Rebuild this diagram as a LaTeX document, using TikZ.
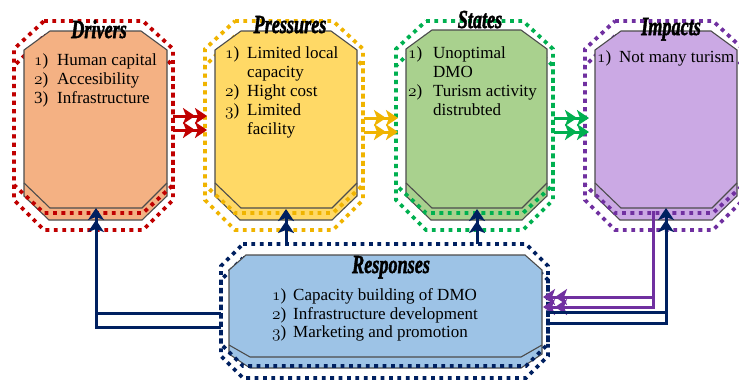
\documentclass[tikz,border=0pt]{standalone}
\usepackage{fontspec}
\usepackage{graphicx}
\usetikzlibrary{arrows.meta}
\setmainfont{Liberation Serif}
\newfontfamily\ttlfont{Liberation Serif}[BoldItalicFeatures={FakeBold=2}]
\newcommand\osn[1]{{\usefont{OML}{cmm}{m}{it}#1}}
\definecolor{cRed}{HTML}{C00000}
\definecolor{cGold}{HTML}{F0B400}
\definecolor{cGreen}{HTML}{00B050}
\definecolor{cPurple}{HTML}{7030A0}
\definecolor{cNavy}{HTML}{002060}
\definecolor{fOrange}{HTML}{F4B183}
\definecolor{fYellow}{HTML}{FFD966}
\definecolor{fGreen}{HTML}{A9D18E}
\definecolor{fPurple}{HTML}{CBA9E4}
\definecolor{fBlue}{HTML}{9DC3E6}
% style, L, T, R, B, c top, cy top, c bottom, cy bottom
\newcommand\octdraw[9]{\path[#1] (#2+#6,#3) -- (#4-#6,#3) -- (#4,#3+#7) -- (#4,#5-#9) -- (#4-#8,#5) -- (#2+#8,#5) -- (#2,#5-#9) -- (#2,#3+#7) -- cycle;}
\tikzset{
  dots/.style={draw, line width=3.8pt, dash pattern=on 3.8pt off 4.6pt},
  boxedge/.style={draw=black!70, line width=1.1pt},
  bevel/.style={draw=black!70, line width=1.1pt},
  conn/.style={line width=3pt},
  dblarrow/.style={-{Stealth[length=12pt,width=16pt,inset=3pt]Stealth[length=12pt,width=16pt,inset=3pt]}},
  ttl/.style={anchor=base, inner sep=0pt, font=\ttlfont\bfseries\itshape\fontsize{26}{26}\selectfont},
  itm/.style={anchor=base west, inner sep=0pt, font=\fontsize{17}{19}\selectfont}
}
\begin{document}
\begin{tikzpicture}[x=1pt,y=-1pt]
\useasboundingbox (0,0) rectangle (739,381);
\fill[white] (0,0) rectangle (739,381);

% ---- lower (shifted) dotted outlines, behind boxes
\octdraw{dots, cRed}{14}{36}{173}{230}{30}{30}{30}{30}
\octdraw{dots, cGold}{205}{36}{363}{230}{30}{30}{30}{30}
\octdraw{dots, cGreen}{396}{36}{553}{230}{30}{30}{30}{30}
\octdraw{dots, cPurple}{585}{36}{743}{230}{30}{30}{30}{30}
\octdraw{dots, cNavy}{221}{258}{548}{378}{22}{22}{22}{22}

% ---- boxes
\octdraw{boxedge, fill=fOrange}{24}{31}{167}{220}{26}{19}{25}{24}
\octdraw{boxedge, fill=fYellow}{215}{31}{357}{220}{26}{19}{25}{24}
\octdraw{boxedge, fill=fGreen}{406}{30}{547}{220}{26}{19}{25}{24}
\octdraw{boxedge, fill=fPurple}{595}{31}{737}{220}{26}{19}{25}{24}
\octdraw{boxedge, fill=fBlue}{229}{255}{542}{368}{17}{15}{21}{14}
\draw[bevel] (24,183) -- (50,208) -- (142,208) -- (167,183);
\draw[bevel] (215,183) -- (241,208) -- (332,208) -- (357,183);
\draw[bevel] (406,183) -- (432,208) -- (522,208) -- (547,183);
\draw[bevel] (595,183) -- (621,208) -- (712,208) -- (737,183);
\draw[bevel] (229,345) -- (250,357) -- (521,357) -- (542,345);

% ---- upper dotted outlines
\octdraw{dots, cRed}{14}{21}{173}{213}{30}{28}{30}{28}
\octdraw{dots, cGold}{205}{21}{363}{213}{30}{28}{30}{28}
\octdraw{dots, cGreen}{396}{21}{553}{213}{30}{28}{30}{28}
\octdraw{dots, cPurple}{585}{21}{743}{213}{30}{28}{30}{28}
\octdraw{dots, cNavy}{221}{244}{548}{366}{22}{22}{22}{22}

% ---- titles
\node[ttl] (tDrivers) at (99,38) {\scalebox{0.7}[1]{Drivers}};
\node[ttl] (tPressures) at (290,33) {\scalebox{0.7}[1]{Pressures}};
\node[ttl] (tStates) at (480,28) {\scalebox{0.7}[1]{States}};
\node[ttl] (tImpacts) at (671,35) {\scalebox{0.7}[1]{Impacts}};
\node[ttl] (tResponses) at (391,273) {\scalebox{0.7}[1]{Responses}};

% ---- Drivers items
\node[itm] (d1n) at (34,65) {\osn{1})};
\node[itm] (d1t) at (57,65) {Human capital};
\node[itm] (d2n) at (34,84) {\osn{2})};
\node[itm] (d2t) at (57,84) {Accesibility};
\node[itm] (d3n) at (34,103) {3)};
\node[itm] (d3t) at (57,103) {Infrastructure};
% ---- Pressures items
\node[itm] (p1n) at (225,58) {\osn{1})};
\node[itm] (p1t) at (247,58) {Limited local};
\node[itm] (p1u) at (247,77) {capacity};
\node[itm] (p2n) at (225,96) {\osn{2})};
\node[itm] (p2t) at (247,96) {Hight cost};
\node[itm] (p3n) at (225,115) {\osn{3})};
\node[itm] (p3t) at (247,115) {Limited};
\node[itm] (p3u) at (247,134) {facility};
% ---- States items
\node[itm] (s1n) at (408,58) {\osn{1})};
\node[itm] (s1t) at (433,58) {Unoptimal};
\node[itm] (s1u) at (433,77) {DMO};
\node[itm] (s2n) at (408,96) {\osn{2})};
\node[itm] (s2t) at (433,96) {Turism activity};
\node[itm] (s2u) at (433,115) {distrubted};
% ---- Impacts items
\node[itm] (i1n) at (597,62) {\osn{1})};
\node[itm] (i1t) at (619,62) {Not many turism};
% ---- Responses items
\node[itm] (r1n) at (272,300) {\osn{1})};
\node[itm] (r1t) at (293,300) {Capacity building of DMO};
\node[itm] (r2n) at (272,319) {\osn{2})};
\node[itm] (r2t) at (293,319) {Infrastructure development};
\node[itm] (r3n) at (272,337) {\osn{3})};
\node[itm] (r3t) at (293,337) {Marketing and promotion};

% ---- connector end points
\coordinate (dR1) at (173,116); \coordinate (pL1) at (207,116);
\coordinate (dR2) at (173,130); \coordinate (pL2) at (207,130);
\coordinate (pR1) at (364,118); \coordinate (sL1) at (398,118);
\coordinate (pR2) at (364,132); \coordinate (sL2) at (398,132);
\coordinate (sR1) at (554,118); \coordinate (iL1) at (589,118);
\coordinate (sR2) at (554,132); \coordinate (iL2) at (589,132);
\coordinate (dB) at (96,208);
\coordinate (pB) at (286,209);
\coordinate (sB) at (477,209);
\coordinate (iB) at (666,208);
\coordinate (iBp) at (653,211);
\coordinate (rL1) at (221,313);
\coordinate (rL2) at (221,327);
\coordinate (rT1) at (286,244);
\coordinate (rT2) at (477,244);
\coordinate (rR1) at (549,312);
\coordinate (rR2) at (549,323);
\coordinate (rRp1) at (543,297);
\coordinate (rRp2) at (543,307);

% ---- horizontal arrows
\draw[conn, cRed, dblarrow] (dR1) -- (pL1);
\draw[conn, cRed, dblarrow] (dR2) -- (pL2);
\draw[conn, cGold, dblarrow] (pR1) -- (sL1);
\draw[conn, cGold, dblarrow] (pR2) -- (sL2);
\draw[conn, cGreen, dblarrow] (sR1) -- (iL1);
\draw[conn, cGreen, dblarrow] (sR2) -- (iL2);

% ---- responses feedback
\draw[conn, cNavy, dblarrow] (rL2) -| (dB);
\draw[conn, cNavy] (rL1) -- (dB |- rL1);
\draw[conn, cNavy, dblarrow] (rT1) -- (pB);
\draw[conn, cNavy, dblarrow] (rT2) -- (sB);
\draw[conn, cPurple, dblarrow] (iBp) |- (rRp2);
\draw[conn, cPurple, dblarrow] (iBp |- rRp1) -- (rRp1);
\draw[conn, cNavy, dblarrow] (rR2) -| (iB);
\draw[conn, cNavy] (rR1) -- (iB |- rR1);
\end{tikzpicture}
\end{document}
